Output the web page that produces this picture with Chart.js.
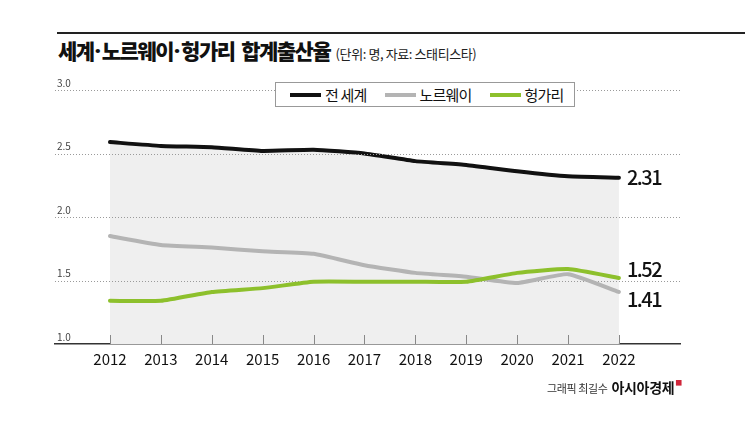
<!DOCTYPE html>
<html>
<head>
<meta charset="utf-8">
<script src="https://cdn.jsdelivr.net/npm/chart.js@4/dist/chart.umd.min.js"></script>
<style>
  body { margin: 0; width: 745px; height: 424px; background: #fff; overflow: hidden; font-family: "Noto Sans CJK KR", sans-serif; }
  #wrap { position: relative; width: 745px; height: 424px; }
  canvas { position: absolute; left: 0; top: 0; }
  .topline { position: absolute; left: 57px; top: 32px; width: 688px; height: 2px; background: #222; }
  .title { position: absolute; left: 58px; top: 35px; font-size: 21px; font-weight: 900; color: #111; letter-spacing: -1.5px; white-space: nowrap; }
  .title .dot { font-family: "Noto Sans", sans-serif; letter-spacing: 0; margin: 0 1px; }
  .title small { font-size: 13px; font-weight: 400; letter-spacing: -0.4px; color: #222; margin-left: 2px; }
  .legend { position: absolute; left: 275px; top: 82px; width: 298px; height: 23px; border: 1px solid #999; background: #fff; display: flex; align-items: center; font-size: 15px; color: #111; white-space: nowrap; }
  .legend .item { display: flex; align-items: center; margin-right: 18px; letter-spacing: -0.8px; }
  .legend .item:first-child { margin-left: 14px; }
  .legend .sw { width: 31px; height: 4px; margin-right: 4px; }
  .footer { position: absolute; left: 547px; top: 377px; font-size: 11px; color: #333; white-space: nowrap; letter-spacing: -0.4px; }
  .footer b { font-size: 14px; color: #111; margin-left: 2px; letter-spacing: -0.3px; }
  .footer i { font-style: normal; font-size: 7px; color: #d0263a; vertical-align: top; margin-left: 1px; }
</style>
</head>
<body>
<div id="wrap">
  <div class="topline"></div>
  <div class="title">세계<span class="dot">·</span>노르웨이<span class="dot">·</span>헝가리&nbsp; 합계출산율 <small>(단위: 명, 자료: 스태티스타)</small></div>
  <canvas id="chart" width="745" height="424"></canvas>
  <div class="legend" id="legend"></div>
  <div class="footer">그래픽 최길수 <b>아시아경제</b><i>■</i></div>
</div>
<script>
// ------------------------
// DATA
// ------------------------
const years = [2012, 2013, 2014, 2015, 2016, 2017, 2018, 2019, 2020, 2021, 2022]
const world = [2.59, 2.56, 2.55, 2.52, 2.53, 2.50, 2.44, 2.41, 2.36, 2.32, 2.31]
const norway = [1.85, 1.78, 1.76, 1.73, 1.71, 1.62, 1.56, 1.53, 1.48, 1.55, 1.41]
const hungary = [1.34, 1.34, 1.41, 1.44, 1.49, 1.49, 1.49, 1.49, 1.56, 1.59, 1.52]
const seriesNames = ['전 세계', '노르웨이', '헝가리']
const yTicks = [1.0, 1.5, 2.0, 2.5, 3.0]

const colors = ['#111111', '#b4b4b4', '#8dc02c']

// ------------------------
// LEGEND (html box)
// ------------------------
const legend = document.querySelector('#legend')
seriesNames.forEach((name, i) => {
  legend.innerHTML += `<div class="item"><span class="sw" style="background:${colors[i]}"></span>${name}</div>`
})

// ------------------------
// PLUGINS
// ------------------------
const extras = {
  id: 'extras',
  beforeDatasetsDraw(chart) {
    const ctx = chart.ctx
    const y = chart.scales.y
    // y labels sitting above the grid lines
    ctx.save()
    ctx.font = '10px "Noto Sans CJK KR"'
    ctx.fillStyle = '#444'
    ctx.textAlign = 'left'
    ctx.textBaseline = 'bottom'
    yTicks.forEach(v => {
      ctx.fillText(v.toFixed(1), chart.chartArea.left + 2, y.getPixelForValue(v) - 2)
    })
    ctx.restore()
  },
  // grid + tick marks go over the grey fill but under the other lines
  beforeDatasetDraw(chart, args) {
    if (args.index !== 1) return
    const ctx = chart.ctx
    const x = chart.scales.x
    const y = chart.scales.y
    const area = chart.chartArea
    ctx.save()
    ctx.strokeStyle = '#9a9a9a'
    ctx.lineWidth = 1
    ctx.setLineDash([1, 2])
    yTicks.slice(1).forEach(v => {
      const py = Math.round(y.getPixelForValue(v)) + 0.5
      ctx.beginPath()
      ctx.moveTo(area.left, py)
      ctx.lineTo(area.right, py)
      ctx.stroke()
    })
    ctx.setLineDash([])
    ctx.strokeStyle = '#888'
    years.forEach(yr => {
      const px = Math.round(x.getPixelForValue(yr)) + 0.5
      ctx.beginPath()
      ctx.moveTo(px, area.bottom)
      ctx.lineTo(px, area.bottom - 9)
      ctx.stroke()
    })
    ctx.restore()
  },
  // value label at the end of each line
  afterDatasetsDraw(chart) {
    const ctx = chart.ctx
    ctx.save()
    ctx.font = '500 20px "Noto Sans CJK KR"'
    ctx.letterSpacing = '-1.5px'
    ctx.fillStyle = '#111'
    ctx.textAlign = 'left'
    ctx.textBaseline = 'middle'
    const offsets = [0, 7, -9]
    chart.data.datasets.forEach((ds, i) => {
      const pts = chart.getDatasetMeta(i).data
      const p = pts[pts.length - 1]
      const v = ds.data[ds.data.length - 1].y
      ctx.fillText(v.toFixed(2), p.x + 8, p.y + offsets[i])
    })
    ctx.restore()
  }
}

// ------------------------
// CHART
// ------------------------
const toPoints = arr => arr.map((v, i) => ({ x: years[i], y: v }))

new Chart(document.querySelector('#chart'), {
  type: 'line',
  data: {
    datasets: [
      { label: seriesNames[0], data: toPoints(world), borderColor: colors[0], borderWidth: 4, fill: 'start', backgroundColor: '#efefef', order: 3 },
      { label: seriesNames[1], data: toPoints(norway), borderColor: colors[1], borderWidth: 4, fill: false, order: 2 },
      { label: seriesNames[2], data: toPoints(hungary), borderColor: colors[2], borderWidth: 4, fill: false, order: 1 }
    ]
  },
  options: {
    responsive: false,
    animation: false,
    layout: { padding: { left: 55, right: 65, top: 90, bottom: 50 } },
    elements: { point: { radius: 0 }, line: { tension: 0.15, borderCapStyle: 'round', borderJoinStyle: 'round' } },
    plugins: { legend: { display: false }, tooltip: { enabled: false } },
    scales: {
      x: {
        type: 'linear',
        min: 2010.92,
        max: 2023.2,
        afterBuildTicks: axis => { axis.ticks = years.map(v => ({ value: v })) },
        ticks: { callback: v => String(v), color: '#111', font: { size: 15, family: '"Noto Sans CJK KR"' }, padding: 6, maxRotation: 0 },
        grid: { display: false, drawTicks: false, tickLength: 0 },
        border: { display: true, color: '#333', width: 1.5 }
      },
      y: {
        display: false,
        min: 1.0,
        max: 3.0
      }
    }
  },
  plugins: [extras]
})
</script>
</body>
</html>
